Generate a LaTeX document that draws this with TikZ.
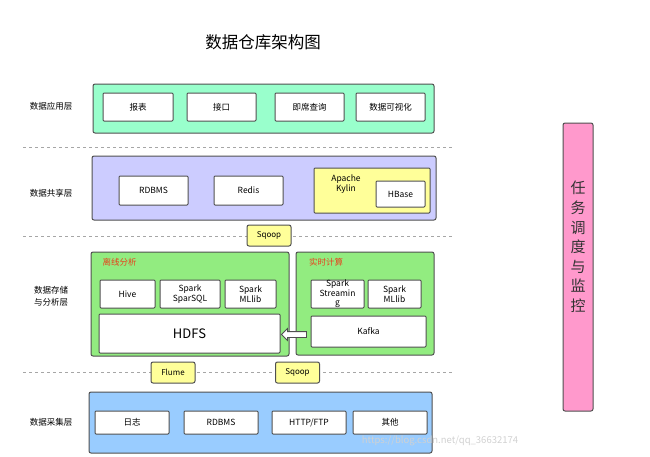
\documentclass[tikz,border=0pt]{standalone}
\usepackage{fontspec}
\setmainfont{Noto Sans CJK SC}
\usetikzlibrary{shapes.arrows,calc}
\definecolor{edge}{HTML}{505050}
\definecolor{appgreen}{HTML}{99FFCC}
\definecolor{sharelilac}{HTML}{CCCCFF}
\definecolor{storegreen}{HTML}{92EC80}
\definecolor{collectblue}{HTML}{99CCFF}
\definecolor{toolyellow}{HTML}{FFFF99}
\definecolor{barpink}{HTML}{FF99CC}
\definecolor{tagred}{HTML}{E8401C}
\tikzset{
  layer/.style={draw=edge, line width=1pt, rounded corners=2pt, inner sep=0pt},
  cell/.style={draw=edge, fill=white, line width=1pt, rounded corners=1pt, inner sep=1pt,
    align=center, font=\fontsize{8.5}{9.5}\selectfont},
  tool/.style={draw=edge, fill=toolyellow, line width=1pt, rounded corners=2pt, inner sep=0pt,
    minimum width=44pt, minimum height=21pt, font=\fontsize{8}{9}\selectfont},
  side/.style={align=center, font=\fontsize{8.5}{12}\selectfont},
  tag/.style={text=tagred, font=\fontsize{8.5}{9}\selectfont},
  sep/.style={draw=black!35, dashed, line width=0.6pt},
}
\begin{document}
\begin{tikzpicture}[x=1pt,y=-1pt]
    \useasboundingbox (0,0) rectangle (650,456);
    % separators
    \draw[sep] (23,147) -- (452,147);
    \draw[sep] (23,236) -- (452,236);
    \draw[sep] (23,372) -- (452,372);
    \node (title) at (263,42) {\fontsize{16.5}{20}\selectfont 数据仓库架构图};
    % application layer
    \node[side] (l1) at (51,106) {数据应用层};
    \node[layer, fill=appgreen, minimum width=341pt, minimum height=49pt] (app) at (263.5,108.5) {};
    \node[cell, minimum width=70pt, minimum height=28pt] (a1) at (138,107) {报表};
    \node[cell, minimum width=69pt, minimum height=28pt] (a2) at (221.5,107) {接口};
    \node[cell, minimum width=69pt, minimum height=28pt] (a3) at (309.5,107) {即席查询};
    \node[cell, minimum width=69pt, minimum height=28pt] (a4) at (390.5,107) {数据可视化};
    % shared layer
    \node[side] (l2) at (51,193) {数据共享层};
    \node[layer, fill=sharelilac, minimum width=344pt, minimum height=64pt] (share) at (264,188) {};
    \node[cell, minimum width=69pt, minimum height=29pt] (s1) at (153.5,190.5) {RDBMS};
    \node[cell, minimum width=69pt, minimum height=29pt] (s2) at (248.5,190.5) {Redis};
    \node[cell, fill=toolyellow, minimum width=116pt, minimum height=45pt] (kylin) at (372,190.5) {};
    \node[align=center, font=\fontsize{8.5}{10}\selectfont] (kylintext) at (346,184) {Apache\\Kylin};
    \node[cell, minimum width=49pt, minimum height=26pt] (hbase) at (400.5,194) {HBase};
    \node[tool] (sqoopa) at (269,235.5) {Sqoop};
    % storage and analysis layer
    \node[side] (l3) at (51,296) {数据存储\\与分析层};
    \node[layer, fill=storegreen, minimum width=198pt, minimum height=104pt] (offline) at (190,304) {};
    \node[layer, fill=storegreen, minimum width=138pt, minimum height=103pt] (online) at (365,303.5) {};
    \node[tag] (t1) at (119.5,262) {离线分析};
    \node[tag] (t2) at (326,262) {实时计算};
    \node[cell, minimum width=55pt, minimum height=28pt] (hive) at (127.5,294) {Hive};
    \node[cell, minimum width=60pt, minimum height=28pt] (sparksql) at (190,294) {Spark\\SparSQL};
    \node[cell, minimum width=51pt, minimum height=28pt] (mllib) at (250.5,294) {Spark\\MLlib};
    \node[cell, minimum width=181pt, minimum height=39pt, font=\fontsize{13}{15}\selectfont] (hdfs) at (189.5,333.5) {HDFS};
    \node[cell, minimum width=53pt, minimum height=28pt, text height=0pt, text depth=0pt] (stream) at (337.5,294) {};
    \node[align=center, font=\fontsize{8.5}{9.5}\selectfont] (streamtext) at (stream) {Spark\\Streamin\\g};
    \node[cell, minimum width=53pt, minimum height=28pt] (mllibb) at (394.5,294) {Spark\\MLlib};
    \node[cell, minimum width=115pt, minimum height=31pt] (kafka) at (368.5,331.5) {Kafka};
    \node[single arrow, draw=edge, fill=white, line width=0.8pt, shape border rotate=180,
      minimum height=25pt, single arrow head extend=3pt, inner sep=2.5pt]
      (feed) at ($(hdfs.east)!0.5!(kafka.west)+(0,2)$) {};
    \node[tool] (flume) at (173,372.5) {Flume};
    \node[tool] (sqoopb) at (297.5,372.5) {Sqoop};
    % collection layer
    \node[side] (l4) at (51,422) {数据采集层};
    \node[layer, fill=collectblue, minimum width=343pt, minimum height=61pt] (collect) at (260.5,422.5) {};
    \node[cell, minimum width=74pt, minimum height=23pt] (c1) at (132,422.5) {日志};
    \node[cell, minimum width=74pt, minimum height=23pt] (c2) at (221,422.5) {RDBMS};
    \node[cell, minimum width=74pt, minimum height=23pt] (c3) at (309,422.5) {HTTP/FTP};
    \node[cell, minimum width=74pt, minimum height=23pt] (c4) at (390,422.5) {其他};
    % scheduling bar
    \node[layer, fill=barpink, minimum width=30pt, minimum height=288pt] (bar) at (578,267) {};
    \node[align=center, text=black!80, font=\fontsize{15}{19.6}\selectfont] (bartext) at (578,247) {任\\务\\调\\度\\与\\监\\控};
    \node[text=black!18, font=\fontsize{9.5}{11}\selectfont] (mark) at (440,441) {https://blog.csdn.net/qq\_36632174};
\end{tikzpicture}
\end{document}
